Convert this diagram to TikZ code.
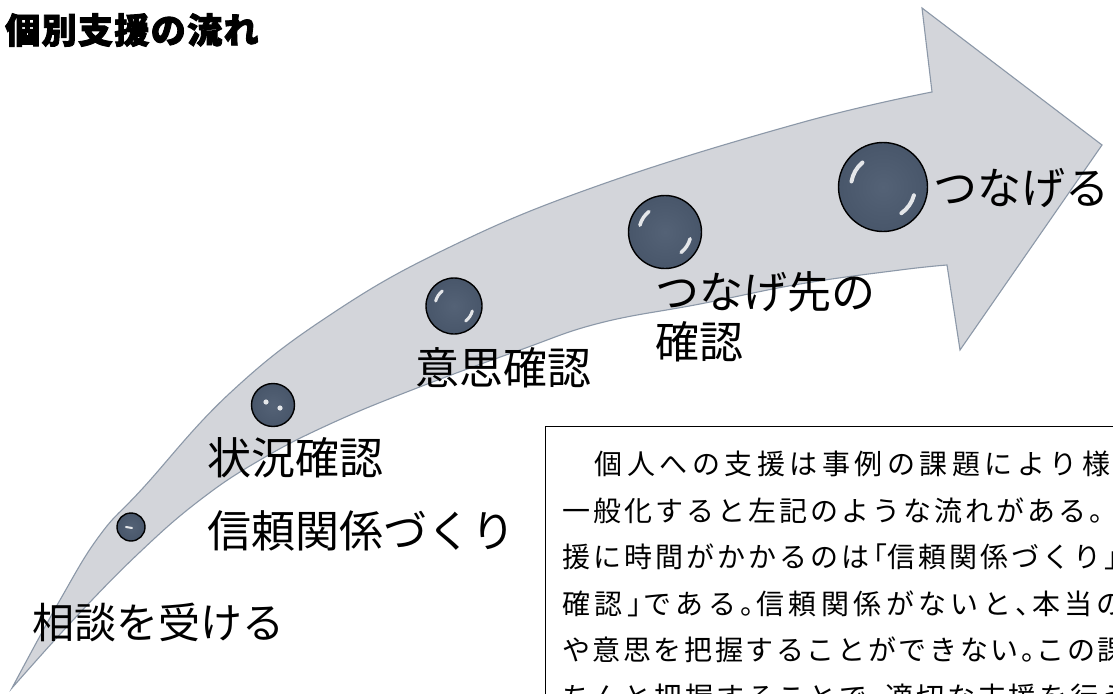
\documentclass[tikz,border=0pt]{standalone}
\usepackage{fontspec}
\newfontfamily\jp{Noto Sans CJK JP}
\newfontfamily\jptitle[LetterSpace=4,BoldFeatures={FakeBold=2.5}]{Noto Sans CJK JP}
\usetikzlibrary{calc}
\definecolor{arrowfill}{RGB}{211,213,218}
\definecolor{arrowline}{RGB}{140,152,168}
\definecolor{ballA}{RGB}{84,98,118}
\definecolor{ballB}{RGB}{70,84,104}
\definecolor{ballC}{RGB}{100,114,134}
\definecolor{ballD}{RGB}{165,175,188}
\pgfdeclareradialshading{ballshade}{\pgfpoint{0bp}{0bp}}{color(0bp)=(ballA); color(30bp)=(ballB); color(43bp)=(ballC); color(50bp)=(ballD)}
% justified line: every character in a slot of width #1, brackets and stops in half slots
\newlength\cpitch
\newcommand\jline[2]{\setlength\cpitch{#1}\jlineA#2\relax}
\def\jlineA#1{\ifx#1\relax\else\jlineB{#1}\expandafter\jlineA\fi}
\def\jlineB#1{%
  \ifx#1「\makebox[0.5\cpitch][r]{#1}%
  \else\ifx#1」\makebox[0.5\cpitch][l]{#1}%
  \else\ifx#1、\makebox[0.5\cpitch][l]{#1}%
  \else\ifx#1。\makebox[0.5\cpitch][l]{#1}%
  \else\makebox[\cpitch][l]{#1}%
  \fi\fi\fi\fi}
\tikzset{
  arrowshape/.style={fill=arrowfill, draw=arrowline, line width=1.1pt, line join=miter},
  ball/.style={circle, draw=black, line width=1.4pt, shading=ballshade, inner sep=0},
  hl/.style={draw=white, line cap=round, opacity=0.85},
  lab/.style={anchor=west, inner sep=0, font=\jp\fontsize{44}{50}\selectfont},
  textbox/.style={draw=black, line width=1pt, fill=white, anchor=north west, minimum width=800, minimum height=400, inner sep=0},
}
\begin{document}
\begin{tikzpicture}[x=1pt,y=-1pt]
\useasboundingbox (0,0) rectangle (1113,693);
\clip (0,0) rectangle (1113,693);
\fill[white] (0,0) rectangle (1113,693);

% title
\node[anchor=west, inner sep=0, font=\jptitle\bfseries\fontsize{35}{35}\selectfont] (title) at (5,30) {個別支援の流れ};

% big curved arrow
\filldraw[arrowshape]
  plot[smooth, tension=0.7] coordinates {(12,688) (60,600) (100,535) (143,488) (230,393) (330,315) (450,247) (600,185) (800,123) (932,92)}
  -- (922,8) -- (1102,145) -- (960,350) -- (947,265)
  -- plot[smooth, tension=0.7] coordinates {(947,265) (900,270) (800,284) (700,304) (600,323) (520,350) (417,388) (330,424) (260,460) (200,500) (140,552) (75,618) (12,688)}
  -- cycle;

% balls
\node[ball, minimum size=28] (c1) at (131,527) {};
\node[ball, minimum size=43] (c2) at (273,405) {};
\node[ball, minimum size=56] (c3) at (454,306) {};
\node[ball, minimum size=73] (c4) at (665,232) {};
\node[ball, minimum size=89] (c5) at (883,187) {};

% highlights
\draw[hl, line width=2pt] ([shift={(-5,0)}]c1.center) -- ([shift={(1,1)}]c1.center);
\fill[white, opacity=0.85] ([shift={(-7,-3)}]c2.center) circle[radius=2.6];
\fill[white, opacity=0.85] ([shift={(7,3)}]c2.center) circle[radius=2.6];
\draw[hl, line width=3pt] ([shift={(195:19)}]c3.center) arc[start angle=195, end angle=232, radius=19];
\draw[hl, line width=3pt] ([shift={(15:19)}]c3.center) arc[start angle=15, end angle=52, radius=19];
\draw[hl, line width=3.5pt] ([shift={(195:26)}]c4.center) arc[start angle=195, end angle=232, radius=26];
\draw[hl, line width=3.5pt] ([shift={(15:26)}]c4.center) arc[start angle=15, end angle=52, radius=26];
\draw[hl, line width=4pt] ([shift={(190:32)}]c5.center) arc[start angle=190, end angle=230, radius=32];
\draw[hl, line width=4pt] ([shift={(15:32)}]c5.center) arc[start angle=15, end angle=55, radius=32];

% labels
\node[lab, font=\jp\fontsize{42}{50}\selectfont] (l1) at (32,622) {相談を受ける};
\node[lab] (l2) at (207,531) {信頼関係づくり};
\node[lab] (l3) at (207,458) {状況確認};
\node[lab] (l4) at (415,368) {意思確認};
\node[lab, align=left] (l5) at (655,317) {つなげ先の\\確認};
\node[lab] (l6) at (933,188) {つなげる};

% text box
\node[textbox] (tb) at (545,426) {};
\node[anchor=north west, inner sep=0, align=left, font=\jp\fontsize{28}{46.5}\selectfont] (tx) at ([shift={(17,25)}]tb.north west) {%
\jline{32.5pt}{　個人への支援は事例の課題により様}\\
\jline{31pt}{一般化すると左記のような流れがある。}\\
\jline{31pt}{援に時間がかかるのは「信頼関係づくり」}\\
\jline{32.4pt}{確認」である。信頼関係がないと、本当の}\\
\jline{30.6pt}{や意思を把握することができない。この課}\\
\jline{30.8pt}{ちんと把握することで、適切な支援を行う}};
\end{tikzpicture}
\end{document}
